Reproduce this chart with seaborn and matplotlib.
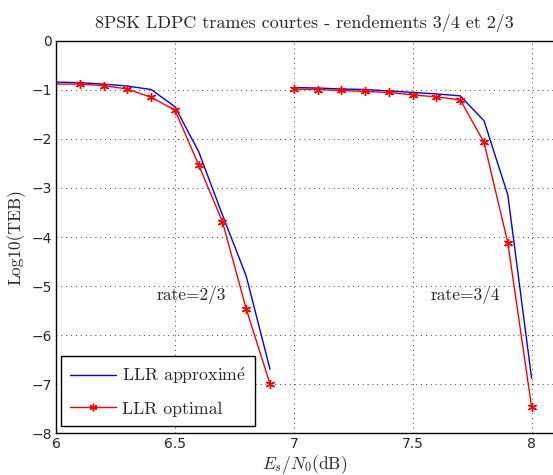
import matplotlib
matplotlib.use("Agg")
import matplotlib.pyplot as plt
import seaborn as sns
import pandas as pd
from matplotlib.lines import Line2D

# ---- data ----
x_r23 = [5.9, 6.1, 6.2, 6.3, 6.4, 6.5, 6.6, 6.7, 6.8, 6.9]
approx_r23 = [-0.83, -0.85, -0.88, -0.92, -0.99, -1.34, -2.26, -3.55, -4.80, -6.70]
optimal_r23 = [-0.88, -0.88, -0.91, -0.98, -1.15, -1.41, -2.53, -3.69, -5.47, -7.00]

x_r34 = [7.0, 7.1, 7.2, 7.3, 7.4, 7.5, 7.6, 7.7, 7.8, 7.9, 8.0]
approx_r34 = [-0.95, -0.96, -0.98, -0.99, -1.02, -1.05, -1.08, -1.12, -1.63, -3.14, -6.88]
optimal_r34 = [-0.98, -0.99, -1.01, -1.03, -1.05, -1.10, -1.14, -1.20, -2.07, -4.12, -7.47]

labels = ["LLR approxim$\\mathrm{\\acute{e}}$", "LLR optimal"]
title = "8PSK LDPC trames courtes - rendements 3/4 et 2/3"
xticks = [6, 6.5, 7, 7.5, 8]
yticks = [0, -1, -2, -3, -4, -5, -6, -7, -8]

sns.set_style("white")
plt.rcParams["mathtext.fontset"] = "cm"
plt.rcParams["font.family"] = ["DejaVu Sans"]
plt.rcParams["axes.unicode_minus"] = True
serif = ["cmr10", "DejaVu Serif"]

fig = plt.figure(figsize=(5.53, 4.75), dpi=100)
ax = fig.add_axes([0.1013, 0.0884, 0.8987, 0.8253])

star = (6, 2, 0)
series = [
    (x_r23, approx_r23, "blue", None),
    (x_r34, approx_r34, "blue", None),
    (x_r23, optimal_r23, "red", star),
    (x_r34, optimal_r34, "red", star),
]
for xs, ys, col, mk in series:
    df = pd.DataFrame({"x": xs, "y": ys})
    sns.lineplot(data=df, x="x", y="y", ax=ax, color=col, lw=1.0,
                 marker=mk if mk else None, markersize=6.5, markeredgewidth=1.0,
                 markeredgecolor=col, estimator=None, legend=False)

ax.set_xlim(6, 8.09)
ax.set_ylim(-8, 0)
ax.set_xticks(xticks)
ax.set_xticklabels(["6", "6.5", "7", "7.5", "8"])
ax.set_yticks(yticks)
ax.set_yticklabels([str(v).replace("-", "\u2212") for v in yticks])
ax.tick_params(direction="in", length=4, labelsize=10, width=0.6, pad=3)
ax.grid(True, linestyle=(0, (1, 4)), color="black", linewidth=0.7, alpha=0.75)
for s in ["left", "bottom", "top"]:
    ax.spines[s].set_color("black")
    ax.spines[s].set_linewidth(1.0)
ax.spines["right"].set_visible(False)

ax.set_title(title, family=serif, fontsize=13, pad=9)
ax.set_xlabel(r"$E_s/N_0\mathrm{(dB)}$", fontsize=12.5, labelpad=1)
ax.set_ylabel("Log10(TEB)", family=serif, fontsize=12.5, labelpad=4)

ax.text(6.57, -5.18, "rate=2/3", family=serif, fontsize=12.5, ha="center", va="center")
ax.text(7.72, -5.18, "rate=3/4", family=serif, fontsize=12.5, ha="center", va="center")

handles = [Line2D([], [], color="blue", lw=1.0),
           Line2D([], [], color="red", lw=1.0, marker=star, markersize=5.5)]
leg = ax.legend(handles, labels,
                loc="lower left", bbox_to_anchor=(0.010, 0.018),
                prop={"family": serif, "size": 12.8},
                frameon=True, fancybox=False, edgecolor="black", framealpha=1,
                handlelength=2.6, borderpad=0.52, labelspacing=0.85, handletextpad=0.3,
                borderaxespad=0.0)
leg.get_frame().set_linewidth(1.0)

fig.savefig("out.png", dpi=100)
